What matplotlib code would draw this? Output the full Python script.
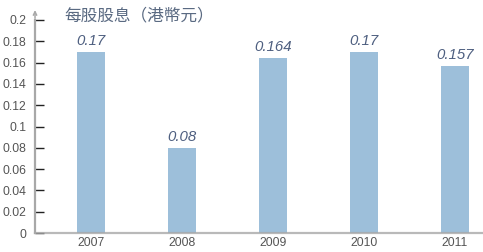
import matplotlib.pyplot as plt

plt.rcParams['font.family'] = ['Liberation Sans', 'Noto Sans CJK TC', 'DejaVu Sans']

# data
years = ['2007', '2008', '2009', '2010', '2011']
dividend = [0.17, 0.08, 0.164, 0.17, 0.157]
value_labels = ['0.17', '0.08', '0.164', '0.17', '0.157']
yticks = [0, 0.02, 0.04, 0.06, 0.08, 0.1, 0.12, 0.14, 0.16, 0.18, 0.2]
ytick_labels = ['0', '0.02', '0.04', '0.06', '0.08', '0.1', '0.12', '0.14', '0.16', '0.18', '0.2']
title = '每股股息（港幣元）'

bar_color = '#9dbfda'
label_color = '#4e5f80'
axis_color = '#a8a8a8'

fig = plt.figure(figsize=(4.83, 2.52), dpi=100)
ax = fig.add_axes([0.0725, 1 - 233 / 252, 1 - 0.0725, (233 - 20) / 252])

x = range(len(years))
bars = ax.bar(x, dividend, width=0.31, color=bar_color, zorder=2)
for i, b in enumerate(bars):
    ax.annotate(value_labels[i], (b.get_x() + b.get_width() / 2, b.get_height()),
                xytext=(0, 3), textcoords='offset points', ha='center', va='bottom',
                fontsize=10.8, style='italic', color=label_color)

ax.set_xlim(-0.615, 4.31)
ax.set_ylim(0, 0.2)
ax.set_xticks(list(x))
ax.set_xticklabels(years)
ax.set_yticks(yticks)
ax.set_yticklabels(ytick_labels)
ax.tick_params(axis='x', length=0, labelsize=8.8, labelcolor='#555555', pad=3)
ax.tick_params(axis='y', direction='in', length=6.5, width=1, color='#222222',
               labelsize=8.8, labelcolor='#555555', pad=6)

for s in ['top', 'right']:
    ax.spines[s].set_visible(False)
for s in ['left', 'bottom']:
    ax.spines[s].set_color(axis_color)
    ax.spines[s].set_linewidth(1.6)
    ax.spines[s].set_zorder(3)
ax.spines['bottom'].set_alpha(0.8)

# open arrow at the top of the y axis
ax.annotate('', xy=(0, 1.06), xytext=(0, 0.995), xycoords='axes fraction',
            arrowprops=dict(arrowstyle='->,head_width=0.12,head_length=0.25',
                            color=axis_color, lw=1.1), annotation_clip=False)

fig.text(64 / 483, 1 - 16 / 252, title, fontsize=12, color='#5a6a82',
         ha='left', va='center', family=['Noto Sans CJK TC', 'DejaVu Sans'])

fig.savefig('out.png', dpi=100)
